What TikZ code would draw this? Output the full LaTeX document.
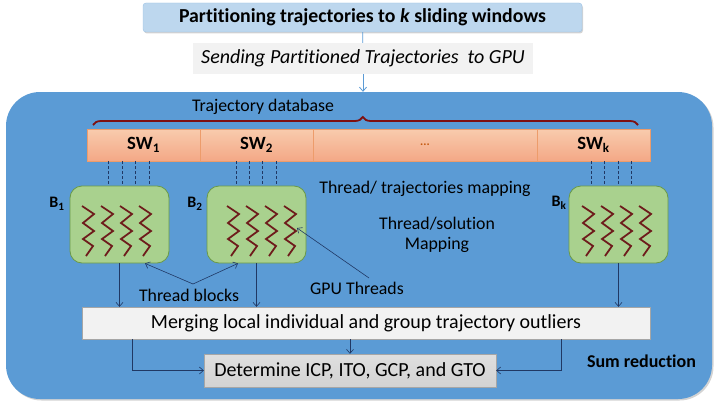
\documentclass[tikz,border=0pt]{standalone}
\usepackage{fontspec}
\setmainfont{Carlito}[Ligatures={NoCommon}]
\usetikzlibrary{positioning, calc, shadows, arrows.meta, decorations.pathreplacing}

\definecolor{gpublue}{HTML}{5B9BD5}
\definecolor{titlefill}{HTML}{BDD7EE}
\definecolor{titleline}{HTML}{9DC3E6}
\definecolor{sendfill}{HTML}{F2F2F2}
\definecolor{swtop}{HTML}{F8CBAD}
\definecolor{swbottom}{HTML}{F4A886}
\definecolor{swline}{HTML}{ED9C6B}
\definecolor{blockfill}{HTML}{A9D18E}
\definecolor{blockline}{HTML}{6A9A48}
\definecolor{threadred}{HTML}{6E1C1C}
\definecolor{bracered}{HTML}{7F1010}
\definecolor{flowblue}{HTML}{203864}
\definecolor{dotsred}{HTML}{C55A11}

\begin{document}
\begin{tikzpicture}[x=1pt, y=-1pt, >={Straight Barb[length=4pt,width=7pt]},
    thread/.pic={\draw[threadred, line width=1.8pt, line join=miter] (0,0) -- (12,8) -- (1,17) -- (12,25) -- (1,33) -- (11,40) -- (4,50);}]
    	\tikzstyle{txt}=[font=\fontsize{17.8}{21}\selectfont, inner sep=0pt];
    	\tikzstyle{titlebox}=[draw=titleline, fill=titlefill, rounded corners=3pt, minimum width=439pt, minimum height=29pt, drop shadow={shadow xshift=1pt, shadow yshift=-1.5pt, opacity=0.35}, font=\bfseries\fontsize{19.8}{23}\selectfont];
    	\tikzstyle{swcell}=[draw=swline, top color=swtop, bottom color=swbottom, minimum height=32pt, font=\bfseries\fontsize{18.7}{22}\selectfont];
    	\tikzstyle{blockbox}=[draw=blockline, fill=blockfill, line width=0.8pt, rounded corners=12pt, minimum width=99pt, minimum height=77pt];
    	\tikzstyle{blabel}=[font=\bfseries\fontsize{16}{19}\selectfont, inner sep=0pt];
    	\tikzstyle{flow}=[draw=flowblue, line width=0.6pt];
    	\tikzstyle{mapline}=[draw=flowblue, line width=0.6pt, densely dashed];

    	\useasboundingbox (0,0) rectangle (714,404);

   	\node[titlebox] (title) at (362.5,17.5) {Partitioning trajectories to \textit{k} sliding windows};
   	\node[fill=sendfill, minimum width=340pt, minimum height=31pt, font=\itshape\fontsize{20}{23}\selectfont] (send) at (363,58.5) {Sending Partitioned Trajectories\ \ to GPU};
   	\node[fill=gpublue, rounded corners=34pt, minimum width=706pt, minimum height=307pt, drop shadow={shadow xshift=1.5pt, shadow yshift=-1.5pt, opacity=0.35}] (gpu) at (359,245.5) {};

   	\draw[gpublue, line width=0.8pt] (title) -- (send);
   	\draw[gpublue, line width=0.8pt, ->] (send) -- (send |- gpu.north);

   	\node[txt] (db) at (263,107) {Trajectory database};
   	\draw[bracered, line width=1.8pt, decorate, decoration={brace, amplitude=8pt, aspect=0.495}] (93,125) -- (638,125);

   	\node[swcell, minimum width=113pt] (sw1) at (143.5,145) {SW\textsubscript{1}};
   	\node[swcell, minimum width=113pt] (sw2) at (256.5,145) {SW\textsubscript{2}};
   	\node[swcell, minimum width=224pt, text=dotsred, font=\bfseries\fontsize{12}{14}\selectfont] (swd) at (425,145) {...};
   	\node[swcell, minimum width=113pt] (swk) at (593.5,145) {SW\textsubscript{k}};

   	\node[blockbox] (b1) at (119.5,224.5) {};
   	\node[blockbox] (b2) at (256.5,224.5) {};
   	\node[blockbox] (bk) at (618.5,224.5) {};

   	\node[blabel] (l1) at (57,204) {B\textsubscript{1}};
   	\node[blabel] (l2) at (195,204) {B\textsubscript{2}};
   	\node[blabel] (lk) at (559,203) {B\textsubscript{k}};

   	\pic at (82,206) {thread};
   	\pic at (101,206) {thread};
   	\pic at (120,206) {thread};
   	\pic at (139,206) {thread};
   	\pic at (227,206) {thread};
   	\pic at (246,206) {thread};
   	\pic at (265,206) {thread};
   	\pic at (284,206) {thread};
   	\pic at (582,206) {thread};
   	\pic at (601,206) {thread};
   	\pic at (620,206) {thread};
   	\pic at (639,206) {thread};

   	\draw[mapline] (108,0 |- sw1.south) -- (108,0 |- b1.north);
   	\draw[mapline] (122,0 |- sw1.south) -- (122,0 |- b1.north);
   	\draw[mapline] (135,0 |- sw1.south) -- (135,0 |- b1.north);
   	\draw[mapline] (149,0 |- sw1.south) -- (149,0 |- b1.north);
   	\draw[mapline] (236,0 |- sw2.south) -- (236,0 |- b2.north);
   	\draw[mapline] (249,0 |- sw2.south) -- (249,0 |- b2.north);
   	\draw[mapline] (262,0 |- sw2.south) -- (262,0 |- b2.north);
   	\draw[mapline] (276,0 |- sw2.south) -- (276,0 |- b2.north);
   	\draw[mapline] (591,0 |- swk.south) -- (591,0 |- bk.north);
   	\draw[mapline] (604,0 |- swk.south) -- (604,0 |- bk.north);
   	\draw[mapline] (618,0 |- swk.south) -- (618,0 |- bk.north);
   	\draw[mapline] (631,0 |- swk.south) -- (631,0 |- bk.north);

   	\node[txt] (tmap) at (425,189) {Thread/ trajectories mapping};
   	\node[txt, align=center, font=\fontsize{17.8}{20}\selectfont] (smap) at (437,235) {Thread/solution\\Mapping};
   	\node[txt] (gput) at (357,288) {GPU Threads};
   	\node[txt] (tb) at (189,295) {Thread blocks};

   	\coordinate (gs) at (369,278);
   	\coordinate (ge) at (297,228);
   	\coordinate (ts) at (193,284);
   	\draw[flow, ->] (gs) -- (ge);
   	\draw[flow, ->] (ts) -- (145,0 |- b1.south);
   	\draw[flow, ->] (ts) -- (238,0 |- b2.south);

   	\node[draw=gray!70, fill=sendfill, minimum width=568pt, minimum height=32pt, font=\fontsize{20}{23}\selectfont] (merge) at (366,323) {Merging local individual and group trajectory outliers};
   	\node[draw=gray!70, top color=gray!25, bottom color=gray!35, minimum width=292pt, minimum height=33pt, font=\fontsize{20}{23}\selectfont] (det) at (350,370.5) {Determine ICP, ITO, GCP, and GTO};
   	\node[blabel, font=\bfseries\fontsize{18}{21}\selectfont] (sum) at (641.5,361) {Sum reduction};

   	\draw[flow, ->] (b1.south) -- (b1.south |- merge.north);
   	\draw[flow, ->] (b2.south) -- (b2.south |- merge.north);
   	\draw[flow, ->] (bk.south) -- (bk.south |- merge.north);
   	\draw[flow, ->] (det.north |- merge.south) -- (det.north);
   	\draw[flow, ->] (132,0 |- merge.south) |- (det.west);
   	\draw[flow, ->] (561,0 |- merge.south) |- (det.east);

	\end{tikzpicture}
\end{document}
